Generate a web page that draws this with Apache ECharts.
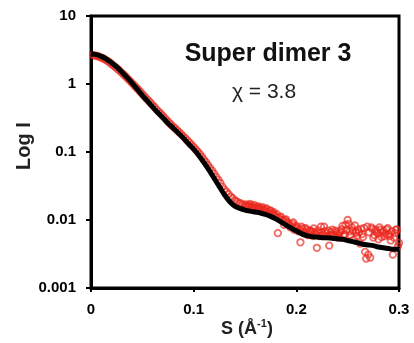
<!DOCTYPE html>
<html>
<head>
<meta charset="utf-8">
<script src="https://cdn.jsdelivr.net/npm/echarts@6/dist/echarts.min.js"></script>
<style>
html,body{margin:0;padding:0;background:#fff;}
#chart{width:414px;height:343px;}
</style>
</head>
<body>
<div id="chart"></div>
<script>
// ---- data ----
var xTickLabels = ['0', '0.1', '0.2', '0.3'];
var yTickLabels = ['0.001', '0.01', '0.1', '1', '10'];

var fitS = [0,0.005,0.01,0.015,0.02,0.025,0.03,0.035,0.04,0.045,0.05,0.055,0.06,0.065,0.07,0.075,0.08,0.085,0.09,0.095,
  0.1,0.105,0.11,0.115,0.12,0.125,0.13,0.135,0.14,0.145,0.15,0.155,0.16,0.165,0.17,0.175,0.18,0.185,0.19,0.195,
  0.2,0.205,0.21,0.215,0.22,0.225,0.23,0.235,0.24,0.245,0.25,0.255,0.26,0.265,0.27,0.275,0.28,0.285,0.29,0.295,0.3];
var fitI = [2.78,2.70,2.55,2.33,2.05,1.78,1.50,1.25,1.03,0.84,0.68,0.56,0.46,0.38,0.32,0.265,0.225,0.19,0.160,0.132,
  0.110,0.089,0.070,0.054,0.041,0.031,0.0235,0.0187,0.0160,0.0148,0.0140,0.0135,0.0131,0.0127,0.0121,0.0113,0.0104,0.0094,0.0084,0.0076,
  0.0069,0.0063,0.0059,0.0057,0.0056,0.0055,0.0055,0.0054,0.0053,0.0052,0.0050,0.0048,0.0046,0.0044,0.0043,0.0042,0.0040,0.0039,0.0038,0.0037,0.0037];

var expS = [0.002,0.004,0.006,0.008,0.010,0.012,0.014,0.016,0.018,0.020,0.022,0.024,0.026,0.028,0.030,0.032,0.034,0.036,0.038,0.040,
  0.042,0.044,0.046,0.048,0.050,0.052,0.054,0.056,0.058,0.060,0.062,0.064,0.066,0.068,0.070,0.072,0.074,0.076,0.078,0.080,
  0.082,0.084,0.086,0.088,0.090,0.092,0.094,0.096,0.098,0.100,0.102,0.104,0.106,0.108,0.110,0.112,0.114,0.116,0.118,0.120,
  0.122,0.124,0.126,0.128,0.130,0.132,0.134,0.136,0.138,0.140,0.142,0.144,0.146,0.148,0.150,0.152,0.154,0.156,0.158,0.160,
  0.162,0.164,0.166,0.168,0.170,0.172,0.174,0.176,0.178,0.180,0.182,0.184,0.186,0.188,0.190,0.192,0.194,0.196,0.198,0.200,
  0.202,0.204,0.206,0.208,0.210,0.212,0.214,0.216,0.218,0.220,0.222,0.224,0.226,0.228,0.230,0.232,0.234,0.236,0.238,0.240,
  0.242,0.244,0.246,0.248,0.250,0.252,0.254,0.256,0.258,0.260,0.262,0.264,0.266,0.268,0.270,0.272,0.274,0.276,0.278,0.280,
  0.282,0.284,0.286,0.288,0.290,0.292,0.294,0.296,0.298,0.300];
var expI = [2.66,2.62,2.58,2.52,2.45,2.37,2.28,2.19,2.08,1.97,1.86,1.76,1.66,1.56,1.46,1.37,1.28,1.19,1.11,1.03,
  0.96,0.89,0.83,0.77,0.71,0.66,0.61,0.57,0.53,0.49,0.455,0.42,0.39,0.365,0.34,0.315,0.29,0.27,0.252,0.236,
  0.222,0.208,0.195,0.182,0.170,0.158,0.147,0.137,0.127,0.118,0.109,0.101,0.093,0.085,0.077,0.071,0.064,0.058,0.053,0.048,
  0.043,0.039,0.035,0.031,0.028,0.026,0.024,0.022,0.021,0.0195,0.0188,0.0178,0.0175,0.0168,0.0162,0.0158,0.0165,0.0152,0.0160,0.0148,
  0.0155,0.0142,0.0150,0.0138,0.0145,0.0128,0.0136,0.0122,0.0130,0.0112,0.0064,0.0110,0.0100,0.0085,0.0102,0.0090,0.0078,0.0088,0.0072,0.0082,
  0.0068,0.0047,0.0075,0.0066,0.0072,0.0062,0.0069,0.0058,0.0066,0.0039,0.0064,0.0080,0.0060,0.0068,0.0058,0.0042,0.0066,0.0061,0.0070,0.0055,
  0.0064,0.0073,0.0058,0.0085,0.0100,0.0068,0.0078,0.0052,0.0066,0.0072,0.0045,0.0062,0.0076,0.0027,0.0031,0.0028,0.0074,0.0060,0.0068,0.0052,
  0.0072,0.0065,0.0058,0.0073,0.0062,0.0050,0.0031,0.0064,0.0072,0.0046];

// additional experimental points (odd steps) in the noisy tail
var expS2 = [0.151,0.153,0.155,0.157,0.159,0.161,0.163,0.165,0.167,0.169,0.171,0.173,0.175,0.177,0.179,0.181,0.183,0.185,0.187,0.189,
  0.191,0.193,0.195,0.197,0.199,0.201,0.203,0.205,0.207,0.209,0.211,0.213,0.215,0.217,0.219,0.221,0.223,0.225,0.227,0.229,
  0.231,0.233,0.235,0.237,0.239,0.241,0.243,0.245,0.247,0.249,0.251,0.253,0.255,0.257,0.259,0.261,0.263,0.265,0.267,0.269,
  0.271,0.273,0.275,0.277,0.279,0.281,0.283,0.285,0.287,0.289,0.291,0.293,0.295,0.297,0.299];
var expI2 = [0.0170,0.0160,0.0172,0.0155,0.0167,0.0150,0.0158,0.0146,0.0155,0.0140,0.0148,0.0126,0.0138,0.0125,0.0118,0.0122,0.0105,0.0112,0.0098,0.0100,
  0.0093,0.0085,0.0082,0.0092,0.0076,0.0078,0.0072,0.0080,0.0064,0.0076,0.0060,0.0070,0.0067,0.0075,0.0061,0.0070,0.0058,0.0066,0.0080,0.0063,
  0.0070,0.0060,0.0072,0.0057,0.0066,0.0060,0.0068,0.0082,0.0062,0.0072,0.0088,0.0060,0.0070,0.0083,0.0058,0.0066,0.0074,0.0056,0.0034,0.0080,
  0.0066,0.0078,0.0055,0.0072,0.0064,0.0078,0.0056,0.0070,0.0062,0.0076,0.0058,0.0068,0.0055,0.0072,0.0041];

// ---- chart ----
var FONT = '"Liberation Sans", Arial, sans-serif';
function pairs(xs, ys) { return xs.map(function (s, i) { return [s, ys[i]]; }); }
var fitData = pairs(fitS, fitI);
var expData = pairs(expS, expI).concat(pairs(expS2, expI2));

var chart = echarts.init(document.getElementById('chart'), null, {renderer: 'canvas'});
chart.setOption({
  animation: false,
  backgroundColor: '#fff',
  grid: {left: 91, right: 15, top: 16, bottom: 55, show: true, borderColor: '#000', borderWidth: 3, backgroundColor: 'transparent'},
  xAxis: {
    type: 'value', min: 0, max: 0.3, interval: 0.1,
    axisLine: {show: true, lineStyle: {color: '#000', width: 3}},
    axisTick: {show: true, inside: false, length: 4, lineStyle: {color: '#000', width: 2}},
    splitLine: {show: false},
    axisLabel: {
      margin: 14, color: '#000', fontFamily: FONT, fontWeight: 'bold', fontSize: 15,
      formatter: function (v) { return xTickLabels[Math.round(v * 10)]; }
    }
  },
  yAxis: {
    type: 'log', logBase: 10, min: 0.001, max: 10,
    axisLine: {show: true, lineStyle: {color: '#000', width: 3}},
    axisTick: {show: true, inside: false, length: 5, lineStyle: {color: '#000', width: 2}},
    splitLine: {show: false},
    minorTick: {show: false},
    axisLabel: {
      margin: 15, color: '#000', fontFamily: FONT, fontWeight: 'bold', fontSize: 15,
      formatter: function (v) { return yTickLabels[Math.round(Math.log10(v)) + 3]; }
    }
  },
  series: [
    {
      type: 'scatter', data: expData, symbol: 'circle', symbolSize: 6.5, clip: false,
      itemStyle: {color: 'rgba(255,255,255,0)', borderColor: 'rgba(235,40,30,0.85)', borderWidth: 1.8},
      z: 2
    },
    {
      type: 'line', data: fitData, showSymbol: false, smooth: 0.3, clip: true,
      lineStyle: {color: '#000', width: 5},
      z: 3
    }
  ],
  graphic: [
    {type: 'text', x: 268, y: 54, z: 10, style: {text: 'Super dimer 3', fontFamily: FONT, fontWeight: 'bold', fontSize: 25, fill: '#111', align: 'center', verticalAlign: 'middle'}},
    {type: 'text', x: 264, y: 92, z: 10, style: {text: 'χ = 3.8', fontFamily: FONT, fontSize: 21, fill: '#222', align: 'center', verticalAlign: 'middle'}},
    {type: 'text', x: 24, y: 146, rotation: Math.PI / 2, z: 10, style: {text: 'Log I', fontFamily: FONT, fontWeight: 'bold', fontSize: 20, fill: '#222', align: 'center', verticalAlign: 'middle'}},
    {type: 'text', x: 247, y: 328, z: 10, style: {
      text: '{b|S (Å}{s|-1}{b|)}', align: 'center', verticalAlign: 'middle',
      rich: {
        b: {fontFamily: FONT, fontWeight: 'bold', fontSize: 18, fill: '#222', lineHeight: 20, verticalAlign: 'bottom'},
        s: {fontFamily: FONT, fontWeight: 'bold', fontSize: 11, fill: '#222', lineHeight: 20, verticalAlign: 'top'}
      }
    }}
  ]
});
</script>
</body>
</html>
